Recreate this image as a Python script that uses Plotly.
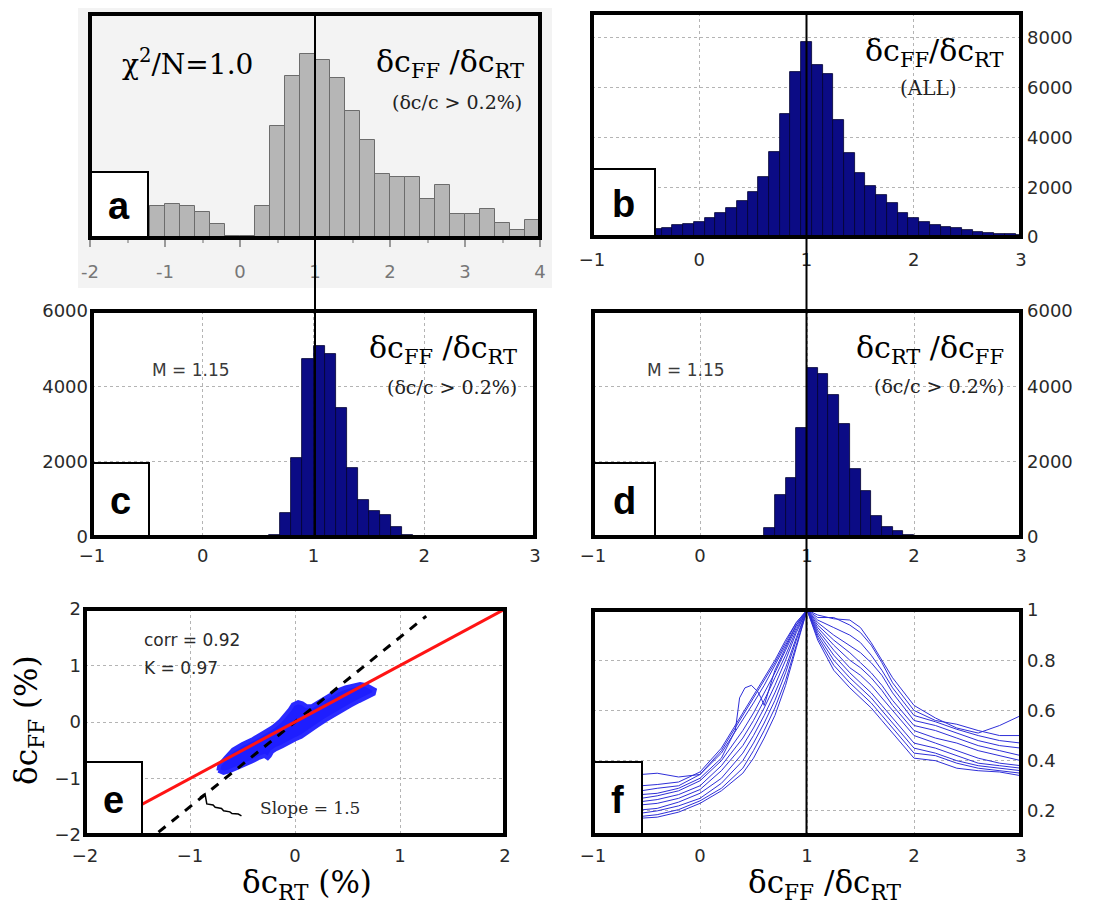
import plotly.graph_objects as go

W, H = 1096, 911
PAGE_OFFSET = 8  # the browser page adds an 8px body margin

# ---------------- data ----------------
# panel a: histogram, bin width 0.2
a_bin_centers = [-1.3, -1.1, -0.9, -0.7, -0.5, -0.3, -0.1, 0.1, 0.3, 0.5, 0.7, 0.9, 1.1, 1.3,
                 1.5, 1.7, 1.9, 2.1, 2.3, 2.5, 2.7, 2.9, 3.1, 3.3, 3.5, 3.7, 3.9]
a_counts = [9.5, 9.5, 10.2, 9.5, 7.7, 4.2, 0.5, 0.5, 9.4, 33.2, 48.0, 54.4, 52.9, 47.4,
            37.7, 29.0, 19.0, 18.2, 18.2, 11.7, 15.7, 7.2, 7.2, 8.5, 4.4, 2.4, 5.4]
a_tick_vals = [-2, -1, 0, 1, 2, 3, 4]
a_tick_text = ['-2', '-1', '0', '1', '2', '3', '4']

# panel b: histogram (ALL), bin width 0.1
b_bin_centers = [-0.4, -0.3, -0.2, -0.1, 0.0, 0.1, 0.2, 0.3, 0.4, 0.5, 0.6, 0.7, 0.8, 0.9, 1.0,
                 1.1, 1.2, 1.3, 1.4, 1.5, 1.6, 1.7, 1.8, 1.9, 2.0, 2.1, 2.2, 2.3, 2.4, 2.5,
                 2.6, 2.7, 2.8, 2.9, 3.0]
b_counts = [322, 348, 482, 509, 616, 777, 951, 1179, 1461, 1823, 2426, 3430, 4931, 6647, 7853,
            6914, 6539, 4703, 3363, 2559, 2064, 1688, 1353, 951, 750, 616, 482, 415, 348, 281,
            214, 174, 134, 107, 90]
b_y_ticks = [0, 2000, 4000, 6000, 8000]

# panel c: dcFF/dcRT (dc/c > 0.2%)
c_bin_centers = [0.65, 0.75, 0.85, 0.95, 1.05, 1.15, 1.25, 1.35, 1.45, 1.55, 1.65, 1.75, 1.85, 1.95]
c_counts = [50, 632, 2099, 4720, 5059, 4853, 3431, 1832, 987, 702, 587, 275, 60, 20]

# panel d: dcRT/dcFF (dc/c > 0.2%)
d_bin_centers = [0.55, 0.65, 0.75, 0.85, 0.95, 1.05, 1.15, 1.25, 1.35, 1.45, 1.55, 1.65, 1.75, 1.85, 1.95]
d_counts = [20, 231, 1120, 1565, 2898, 4480, 4320, 3769, 2987, 1814, 1209, 569, 276, 160, 40]
cd_y_ticks = [0, 2000, 4000, 6000]

ratio_x_ticks = [-1, 0, 1, 2, 3]

# panel e: scatter dcFF vs dcRT
e_ticks = [-2, -1, 0, 1, 2]
e_fit_x = [-2.0, 2.0]
e_fit_y = [-2.0, 2.0]
e_slope_x = [-1.3, 1.25]
e_slope_y = [-1.95, 1.875]
e_cloud_x = [-0.73, -0.72, -0.66, -0.59, -0.50, -0.40, -0.30, -0.21, -0.14, -0.09, -0.05, -0.02,
             0.03, 0.07, 0.11, 0.16, 0.22, 0.28, 0.34, 0.41, 0.48, 0.56, 0.62, 0.68, 0.73, 0.76,
             0.75, 0.69, 0.61, 0.53, 0.45, 0.37, 0.29, 0.21, 0.13, 0.06, 0.00, -0.06, -0.12,
             -0.18, -0.22, -0.24, -0.26, -0.29, -0.35, -0.41, -0.47, -0.55, -0.62, -0.68, -0.73]
e_cloud_y = [-0.86, -0.76, -0.63, -0.49, -0.39, -0.30, -0.19, -0.09, 0.02, 0.12, 0.22, 0.31,
             0.35, 0.33, 0.28, 0.28, 0.35, 0.42, 0.48, 0.56, 0.61, 0.65, 0.67, 0.65, 0.61, 0.57,
             0.50, 0.45, 0.37, 0.29, 0.21, 0.12, 0.03, -0.07, -0.17, -0.26, -0.31, -0.38, -0.43,
             -0.48, -0.53, -0.60, -0.64, -0.60, -0.64, -0.70, -0.75, -0.81, -0.87, -0.90, -0.86]
e_pointer_x = [-0.905, -0.857, -0.84, -0.78, -0.76, -0.70, -0.68, -0.62, -0.60, -0.54, -0.51]
e_pointer_y = [-1.33, -1.27, -1.45, -1.47, -1.51, -1.53, -1.57, -1.59, -1.62, -1.63, -1.66]

# panel f: normalised curves
f_x = [-0.55, -0.4, -0.2, 0.0, 0.2, 0.4, 0.5, 0.6, 0.7, 0.8, 0.9, 1.0,
       1.1, 1.25, 1.4, 1.5, 1.6, 1.7, 1.8, 2.0, 2.2, 2.4, 2.6, 2.8, 3.0]
f_curve_1 = [0.345, 0.35, 0.335, 0.345, 0.44, 0.58, 0.65, 0.72, 0.79, 0.87, 0.95, 1.0,
             0.98, 0.965, 0.96, 0.93, 0.87, 0.80, 0.73, 0.62, 0.57, 0.53, 0.51, 0.54, 0.58]
f_curve_2 = [0.30, 0.305, 0.315, 0.355, 0.45, 0.59, 0.66, 0.73, 0.80, 0.88, 0.95, 1.0,
             0.97, 0.97, 0.94, 0.91, 0.86, 0.79, 0.71, 0.60, 0.56, 0.545, 0.52, 0.50, 0.50]
f_curve_3 = [0.28, 0.29, 0.30, 0.345, 0.43, 0.56, 0.63, 0.70, 0.78, 0.86, 0.94, 1.0,
             0.96, 0.93, 0.90, 0.87, 0.82, 0.76, 0.69, 0.58, 0.555, 0.525, 0.50, 0.48, 0.47]
f_curve_5 = [0.25, 0.26, 0.28, 0.32, 0.40, 0.52, 0.59, 0.67, 0.75, 0.84, 0.93, 1.0,
             0.94, 0.88, 0.83, 0.79, 0.75, 0.70, 0.64, 0.54, 0.52, 0.49, 0.46, 0.44, 0.42]
f_curve_6 = [0.237, 0.245, 0.265, 0.30, 0.38, 0.49, 0.56, 0.64, 0.73, 0.82, 0.92, 1.0,
             0.93, 0.86, 0.80, 0.77, 0.73, 0.68, 0.62, 0.52, 0.49, 0.47, 0.44, 0.42, 0.40]
f_curve_7 = [0.224, 0.23, 0.25, 0.285, 0.36, 0.46, 0.53, 0.61, 0.70, 0.80, 0.91, 1.0,
             0.92, 0.84, 0.77, 0.74, 0.70, 0.65, 0.60, 0.50, 0.47, 0.44, 0.41, 0.39, 0.38]
f_curve_8 = [0.204, 0.21, 0.235, 0.27, 0.33, 0.43, 0.50, 0.58, 0.67, 0.77, 0.89, 1.0,
             0.91, 0.82, 0.75, 0.71, 0.67, 0.62, 0.57, 0.47, 0.45, 0.42, 0.39, 0.38, 0.37]
f_curve_9 = [0.191, 0.20, 0.22, 0.25, 0.31, 0.40, 0.47, 0.55, 0.64, 0.75, 0.88, 1.0,
             0.90, 0.80, 0.73, 0.69, 0.65, 0.60, 0.55, 0.45, 0.43, 0.40, 0.38, 0.37, 0.36]
f_curve_10 = [0.178, 0.185, 0.205, 0.24, 0.29, 0.37, 0.44, 0.52, 0.61, 0.72, 0.86, 1.0,
              0.89, 0.78, 0.71, 0.67, 0.63, 0.58, 0.53, 0.43, 0.42, 0.39, 0.37, 0.36, 0.35]
f_curve_11 = [0.171, 0.175, 0.195, 0.23, 0.28, 0.35, 0.41, 0.49, 0.58, 0.70, 0.85, 1.0,
              0.88, 0.76, 0.69, 0.65, 0.61, 0.56, 0.51, 0.41, 0.40, 0.37, 0.36, 0.355, 0.34]
f_loop_x = [-0.55, -0.4, -0.2, 0.0, 0.2, 0.33, 0.37, 0.42, 0.48, 0.54, 0.57, 0.6, 0.7, 0.8, 0.9, 1.0,
            1.1, 1.25, 1.4, 1.5, 1.6, 1.7, 1.8, 2.0, 2.2, 2.4, 2.6, 2.8, 3.0]
f_loop_y = [0.265, 0.27, 0.29, 0.33, 0.41, 0.52, 0.65, 0.69, 0.70, 0.675, 0.65, 0.62, 0.76, 0.85, 0.94, 1.0,
            0.95, 0.90, 0.86, 0.83, 0.79, 0.74, 0.67, 0.56, 0.54, 0.51, 0.48, 0.46, 0.45]
f_y_ticks = [0.2, 0.4, 0.6, 0.8, 1.0]
f_y_text = ['0.2', '0.4', '0.6', '0.8', '1']

# ---------------- layout helpers ----------------
def fx(p):
    return (p - PAGE_OFFSET) / W


def fy(p):
    return 1 - (p - PAGE_OFFSET) / H


# panel boxes in pixels: (x0, x1, y0_top, y1_bottom)
BOX = {
    'a': (90, 540, 14, 238),
    'b': (592, 1021, 13, 237),
    'c': (92, 535, 311, 537),
    'd': (593, 1021, 311, 537),
    'e': (85, 505, 609, 835),
    'f': (593, 1021, 610, 835),
}
AX = {'a': ('x', 'y'), 'b': ('x2', 'y2'), 'c': ('x3', 'y3'),
      'd': ('x4', 'y4'), 'e': ('x5', 'y5'), 'f': ('x6', 'y6')}

SANS = 'DejaVu Sans'
SERIF = 'DejaVu Serif'
NAVY = '#0b0b85'
GRID = '#b4b4b4'

fig = go.Figure()

# histograms
fig.add_trace(go.Bar(x=a_bin_centers, y=a_counts, width=0.2, xaxis='x', yaxis='y',
                     marker=dict(color='#b6b6b6', line=dict(color='#6c6c6c', width=1))))
fig.add_trace(go.Bar(x=b_bin_centers, y=b_counts, width=0.1, xaxis='x2', yaxis='y2',
                     marker=dict(color=NAVY, line=dict(color='#000030', width=0.8))))
fig.add_trace(go.Bar(x=c_bin_centers, y=c_counts, width=0.1, xaxis='x3', yaxis='y3',
                     marker=dict(color=NAVY, line=dict(color='#000030', width=0.8))))
fig.add_trace(go.Bar(x=d_bin_centers, y=d_counts, width=0.1, xaxis='x4', yaxis='y4',
                     marker=dict(color=NAVY, line=dict(color='#000030', width=0.8))))

# panel e
fig.add_trace(go.Scatter(x=e_cloud_x, y=e_cloud_y, mode='lines', fill='toself',
                         fillcolor='#1e1eff', line=dict(color='#2a2aff', width=4),
                         xaxis='x5', yaxis='y5', hoverinfo='skip'))
fig.add_trace(go.Scatter(x=e_slope_x, y=e_slope_y, mode='lines',
                         line=dict(color='black', width=3, dash='9px,8px'),
                         xaxis='x5', yaxis='y5'))
fig.add_trace(go.Scatter(x=e_fit_x, y=e_fit_y, mode='lines',
                         line=dict(color='#ff1414', width=3), xaxis='x5', yaxis='y5'))
fig.add_trace(go.Scatter(x=e_pointer_x, y=e_pointer_y, mode='lines',
                         line=dict(color='black', width=1.5), xaxis='x5', yaxis='y5'))

# panel f
for yc in [f_curve_1, f_curve_2, f_curve_3, f_curve_5, f_curve_6, f_curve_7,
           f_curve_8, f_curve_9, f_curve_10, f_curve_11]:
    fig.add_trace(go.Scatter(x=f_x, y=yc, mode='lines', line=dict(color='#2f2fd8', width=1),
                             xaxis='x6', yaxis='y6'))
fig.add_trace(go.Scatter(x=f_loop_x, y=f_loop_y, mode='lines', line=dict(color='#2f2fd8', width=1),
                         xaxis='x6', yaxis='y6'))

# ---------------- axes ----------------
tickfont = dict(family=SANS, size=18, color='#2a2a2a')


def xaxis_cfg(p, rng, tickvals, ticktext=None, grid=True, standoff=8):
    x0, x1, _, _ = BOX[p]
    d = dict(domain=[fx(x0), fx(x1)], range=rng, anchor=AX[p][1], automargin=False,
             tickvals=tickvals, showline=False, zeroline=False,
             showgrid=grid, gridcolor=GRID, griddash='dot', gridwidth=1.2,
             ticks='', tickfont=tickfont, ticklabelstandoff=standoff, fixedrange=True)
    if ticktext is not None:
        d['ticktext'] = ticktext
    return d


def yaxis_cfg(p, rng, tickvals, ticktext=None, side='left', grid=True, show=True, standoff=3):
    _, _, y0, y1 = BOX[p]
    d = dict(domain=[fy(y1), fy(y0)], range=rng, anchor=AX[p][0], side=side, automargin=False,
             tickvals=tickvals, showline=False, zeroline=False, showticklabels=show,
             showgrid=grid, gridcolor=GRID, griddash='dot', gridwidth=1.2,
             ticks='', tickfont=tickfont, ticklabelstandoff=standoff, fixedrange=True)
    if ticktext is not None:
        d['ticktext'] = ticktext
    return d


xa = xaxis_cfg('a', [-2, 4], a_tick_vals, a_tick_text, grid=False, standoff=9)
xa.update(ticks='outside', ticklen=8, tickcolor='#9a9a9a', tickwidth=1.5,
          tickfont=dict(family=SANS, size=18, color='#777777'),
          minor=dict(ticks='outside', ticklen=4, dtick=0.5, tickcolor='#b0b0b0'))

fig.update_layout(
    xaxis=xa,
    yaxis=yaxis_cfg('a', [0, 66.4], [], grid=False, show=False),
    xaxis2=xaxis_cfg('b', [-1, 3], ratio_x_ticks, standoff=10),
    yaxis2=yaxis_cfg('b', [0, 9000], b_y_ticks, side='right', standoff=5),
    xaxis3=xaxis_cfg('c', [-1, 3], ratio_x_ticks, standoff=6),
    yaxis3=yaxis_cfg('c', [0, 6000], cd_y_ticks, side='left', standoff=3),
    xaxis4=xaxis_cfg('d', [-1, 3], ratio_x_ticks, standoff=6),
    yaxis4=yaxis_cfg('d', [0, 6000], cd_y_ticks, side='right', standoff=5),
    xaxis5=xaxis_cfg('e', [-2, 2], e_ticks, standoff=8),
    yaxis5=yaxis_cfg('e', [-2, 2], e_ticks, side='left', standoff=3),
    xaxis6=xaxis_cfg('f', [-1, 3], ratio_x_ticks, standoff=8),
    yaxis6=yaxis_cfg('f', [0.104, 1.0], f_y_ticks, f_y_text, side='right', standoff=5),
)

# ---------------- shapes ----------------
shapes = []
# light grey scanned background of panel a
shapes.append(dict(type='rect', xref='paper', yref='paper', x0=fx(78), x1=fx(552),
                   y0=fy(288), y1=fy(8), fillcolor='#f3f3f3', line=dict(width=0), layer='below'))

# label boxes (white with black border)
LABEL_BOX = {
    'a': (90, 148, 172, 238),
    'b': (592, 655, 169, 237),
    'c': (92, 149, 463, 537),
    'd': (593, 655, 463, 537),
    'e': (85, 142, 762, 835),
    'f': (593, 642, 762, 835),
}
for k, (x0, x1, y0, y1) in LABEL_BOX.items():
    shapes.append(dict(type='rect', xref='paper', yref='paper', x0=fx(x0), x1=fx(x1),
                       y0=fy(y1), y1=fy(y0), fillcolor='white',
                       line=dict(color='black', width=2), layer='above'))

# long vertical reference lines at ratio = 1
shapes.append(dict(type='line', xref='x', yref='paper', x0=1, x1=1, y0=fy(537), y1=fy(14),
                   line=dict(color='black', width=2), layer='above'))
shapes.append(dict(type='line', xref='x2', yref='paper', x0=1, x1=1, y0=fy(835), y1=fy(13),
                   line=dict(color='black', width=2), layer='above'))

# thick frames
for k, (xr, yr) in AX.items():
    shapes.append(dict(type='rect', xref=xr + ' domain', yref=yr + ' domain',
                       x0=0, x1=1, y0=0, y1=1, line=dict(color='black', width=4),
                       fillcolor='rgba(0,0,0,0)', layer='above'))

fig.update_layout(shapes=shapes)

# ---------------- annotations ----------------
anns = []


def ann(text, xp, yp, size, family, xanchor='center', yanchor='middle', color='black',
        angle=0, bold=False):
    anns.append(dict(text=('<b>%s</b>' % text) if bold else text, xref='paper', yref='paper',
                     x=fx(xp), y=fy(yp), xanchor=xanchor, yanchor=yanchor, showarrow=False,
                     textangle=angle, font=dict(family=family, size=size, color=color)))


# panel letters
for k, (x0, x1, y0, y1) in LABEL_BOX.items():
    ann(k, (x0 + x1) / 2, (y0 + y1) / 2 + 1, 38, 'Liberation Sans', bold=True)

# panel a
ann('χ<sup>2</sup>/N=1.0', 120, 62, 28, SERIF, xanchor='left')
ann('δc<sub>FF</sub> /δc<sub>RT</sub>', 526, 64, 30, SERIF, xanchor='right')
ann('(δc/c &gt; 0.2%)', 524, 102, 19, SERIF, xanchor='right', color='#222')
# panel b
ann('δc<sub>FF</sub>/δc<sub>RT</sub>', 1005, 53, 30, SERIF, xanchor='right')
ann('(ALL)', 928, 88, 20, SERIF, color='#222')
# panel c
ann('δc<sub>FF</sub> /δc<sub>RT</sub>', 519, 350, 30, SERIF, xanchor='right')
ann('(δc/c &gt; 0.2%)', 519, 387, 19, SERIF, xanchor='right', color='#222')
ann('M = 1.15', 150, 370, 17, SANS, xanchor='left', color='#3a3a3a')
# panel d
ann('δc<sub>RT</sub> /δc<sub>FF</sub>', 1006, 350, 30, SERIF, xanchor='right')
ann('(δc/c &gt; 0.2%)', 1006, 386, 19, SERIF, xanchor='right', color='#222')
ann('M = 1.15', 645, 370, 17, SANS, xanchor='left', color='#3a3a3a')
# panel e
ann('corr = 0.92', 142, 640, 17, SANS, xanchor='left', color='#2a2a2a')
ann('K = 0.97', 142, 668, 17, SANS, xanchor='left', color='#2a2a2a')
ann('Slope = 1.5', 258, 808, 17, SERIF, xanchor='left', color='#2a2a2a')
ann('δc<sub>RT</sub> (%)', 307, 884, 31, SERIF)
ann('δc<sub>FF</sub> (%)', 28, 720, 31, SERIF, angle=-90)
# panel f
ann('δc<sub>FF</sub> /δc<sub>RT</sub>', 824, 884, 31, SERIF)

fig.update_layout(
    annotations=anns,
    width=W, height=H,
    margin=dict(l=0, r=0, t=0, b=0, autoexpand=False),
    paper_bgcolor='white', plot_bgcolor='white',
    showlegend=False, bargap=0,
)

fig.write_html('out.html')
